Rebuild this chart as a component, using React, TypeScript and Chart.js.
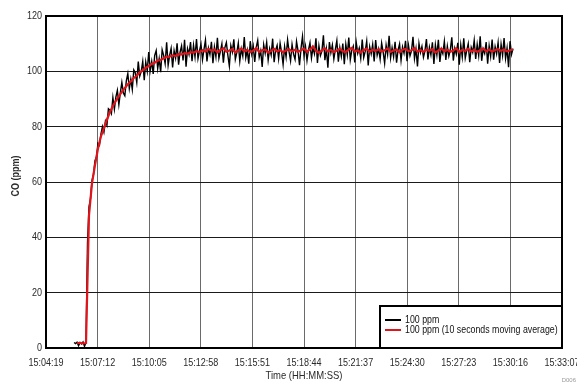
import { useEffect, useRef } from "react";
import { Chart, registerables } from "chart.js";

Chart.register(...registerables);

// X axis: seconds elapsed since 15:04:19, grid every 1/10 of the span
const X_TICK_LABELS = [
  "15:04:19", "15:07:12", "15:10:05", "15:12:58", "15:15:51", "15:18:44",
  "15:21:37", "15:24:30", "15:27:23", "15:30:16", "15:33:07",
];
const X_SPAN_SECONDS = 1728;
const Y_MIN = 0;
const Y_MAX = 120;
const Y_STEP = 20;

const X_TITLE = "Time (HH:MM:SS)";
const Y_TITLE = "CO (ppm)";
const SERIES_RAW_LABEL = "100 ppm";
const SERIES_AVG_LABEL = "100 ppm (10 seconds moving average)";

// raw signal, sampled every 5 s starting 94 s after 15:04:19
const RAW_START_S = 94;
const RAW_STEP_S = 5;
const rawPpm = [
  2, 1.6, 2.1, 0.8, 2, 1.5, 2.2, 0.6, 2,
  38, 51, 54, 60.5, 62.7, 67.7, 69, 74, 73.3, 77.3, 80, 78, 82, 80.5, 86.5, 86,
  84.7, 90.5, 86.3, 90.7, 93.1, 88, 92.3, 96, 92.2, 91.2, 96.6, 99.2, 93.8, 97.2,
  93.5, 100.5, 99.5, 96, 103.5, 98.3, 100, 103.6, 96.8, 103.4, 100.1, 107, 100.3,
  103.6, 99.1, 105.8, 107.5, 101, 104.6, 99.7, 107.8, 105.8, 102.8, 110.5, 102.2,
  105.8, 108.3, 101.4, 107.5, 104.8, 110.1, 102.4, 106.9, 109.2, 103.9, 111.4,
  101.7, 108.2, 106.1, 110.6, 103.7, 109.4, 105.2, 111.7, 104.6, 107.4,
  109.8, 104.2, 107.9, 111.3, 103.6, 108.4, 106.1, 110.7, 102.9, 108.8, 105.3, 112.1, 104.7, 107.2, 109.9,
  103.1, 108.6, 110.4, 105.8, 101.9, 109.3, 107.0, 111.6, 104.4, 106.8, 110.2, 103.7, 108.1, 105.5, 112.4,
  104.9, 107.6, 102.8, 110.9, 106.3, 109.1, 103.4, 108.7, 111.2, 105.1, 107.4, 101.6, 109.6, 106.6, 110.5,
  104.1, 108.2, 105.9, 111.8, 103.3, 107.7, 109.4, 104.6, 110.1, 106.9, 102.5, 108.9, 105.2, 111.4, 107.1,
  103.8, 109.7, 106.2, 104.3, 110.8, 107.5, 102.2, 108.3, 112.6, 105.6, 109.0, 103.9, 107.8, 110.3, 104.8,
  108.5, 106.4, 111.9, 103.0, 109.2, 105.7, 107.3, 113.0, 104.0, 108.0, 101.3, 110.6, 106.7, 109.5, 104.5,
  107.9, 111.1, 103.5, 108.6, 105.4, 110.0, 102.6, 109.8, 106.0, 112.2, 104.2, 107.6, 109.1, 103.2, 110.4,
  106.5, 108.4, 104.7, 111.5, 105.0, 107.2, 110.9, 102.1, 108.9, 106.3, 109.7, 103.6, 111.3, 105.8, 108.1,
  104.4, 110.2, 107.0, 102.9, 109.4, 106.1, 112.8, 104.9, 108.5, 105.3, 110.7, 103.1, 107.7, 109.9, 104.0,
  108.8, 106.6, 111.0, 103.7, 109.3, 105.6, 107.4, 112.5, 104.6, 108.2, 101.8, 110.1, 106.8, 109.0, 105.1,
  107.3, 111.7, 104.3, 108.7, 106.0, 110.5, 102.7, 109.6, 105.9, 111.4, 103.4, 108.0, 106.4, 110.8, 104.1,
  109.1, 105.5, 107.8, 112.3, 103.9, 108.3, 106.2, 110.3, 102.4, 109.5, 105.2, 111.9, 104.8, 107.5, 110.0,
  103.3, 108.6, 106.9, 111.2, 104.5, 109.7, 105.7, 112.7, 103.8, 108.1, 106.5, 110.6, 102.8, 109.2, 105.4,
  111.5, 104.2, 108.9, 106.3, 110.4, 103.0, 109.8, 105.8, 112.0, 104.7, 108.4, 101.5, 110.9, 106.1, 108.2,
];

// 10 s moving average, sampled every 10 s starting 104 s after 15:04:19
const AVG_START_S = 104;
const AVG_STEP_S = 10;
const avgPpm = [
  1.8, 1.8, 1.7, 1.8,
  48, 59.5, 66, 72, 76.5, 79.5, 82.5, 85.3, 87.5, 89.3, 91, 92.6, 94, 95.3, 96.3,
  97.6, 98.4, 99.6, 100.3, 101.3, 101.9, 102.7, 103.1, 103.9, 104.1, 104.7, 105.2,
  105.3, 105.8, 105.6, 106.2, 106.1, 106.6, 106.4, 106.9, 106.8, 107.3, 107.0,
  107.6, 107.2, 108.1, 107.4, 107.9, 106.9, 107.7, 108.3, 107.1, 107.5, 108.0, 106.8, 107.6, 108.2, 107.3,
  107.8, 106.9, 107.5, 108.4, 107.0, 107.6, 107.9, 106.8, 107.4, 108.1, 107.2, 107.7, 106.9, 107.5, 108.0,
  107.3, 107.8, 107.0, 107.6, 108.2, 107.1, 107.9, 109.0, 107.4, 106.7, 107.6, 108.3, 107.2, 107.8, 106.9,
  107.5, 108.1, 107.3, 107.0, 107.9, 108.5, 107.2, 107.6, 106.8, 107.7, 108.2, 107.1, 107.8, 107.4, 108.0,
  107.2, 107.6, 108.3, 107.0, 107.5, 107.9, 106.9, 107.8, 108.1, 107.3, 107.6, 108.4, 107.1, 107.7, 107.0,
  107.9, 107.4, 108.0, 106.8, 107.6, 108.2, 107.3, 107.8, 107.1, 107.5, 108.3, 107.0, 107.7, 107.4, 108.1,
  107.2, 107.8, 107.0, 107.6, 108.2, 107.3, 107.9, 107.1, 107.7, 108.0, 107.4, 107.8, 107.2, 107.6, 107.9,
];

const FONT = "'Liberation Sans', Arial, sans-serif";
const TEXT_COLOR = "#2a2a2a";
const CONDENSE = 0.82;

function condensedText(
  ctx: CanvasRenderingContext2D,
  text: string,
  x: number,
  y: number,
  align: CanvasTextAlign,
  sx: number,
  rotate = 0
) {
  ctx.save();
  ctx.translate(x, y);
  if (rotate) ctx.rotate(rotate);
  ctx.scale(sx, 1);
  ctx.textAlign = align;
  ctx.textBaseline = "middle";
  ctx.fillText(text, 0, 0);
  ctx.restore();
}

const framePlugin = {
  id: "frameAndLegend",
  afterDatasetsDraw(chart: any) {
    const { ctx, chartArea: a } = chart;
    ctx.save();
    // legend box
    const w = 182;
    const h = 42;
    const x0 = a.right - w;
    const y0 = a.bottom - h;
    ctx.fillStyle = "#ffffff";
    ctx.fillRect(x0, y0, w, h);
    ctx.strokeStyle = "#000";
    ctx.lineWidth = 2;
    ctx.strokeRect(x0, y0, w, h);
    ctx.font = `11px ${FONT}`;
    chart.data.datasets.forEach((ds: any, i: number) => {
      const y = y0 + 14 + i * 10;
      ctx.strokeStyle = ds.borderColor;
      ctx.lineWidth = 2;
      ctx.beginPath();
      ctx.moveTo(x0 + 5, y);
      ctx.lineTo(x0 + 21, y);
      ctx.stroke();
      ctx.fillStyle = "#111";
      condensedText(ctx, ds.label, x0 + 25, y, "left", 0.8);
    });
    // plot frame
    ctx.strokeStyle = "#000";
    ctx.lineWidth = 2;
    ctx.strokeRect(a.left, a.top, a.right - a.left, a.bottom - a.top);

    // axis tick labels
    const xs = chart.scales.x;
    const ys = chart.scales.y;
    ctx.fillStyle = TEXT_COLOR;
    ctx.font = `11px ${FONT}`;
    xs.ticks.forEach((t: any, i: number) => {
      condensedText(ctx, X_TICK_LABELS[i], xs.getPixelForValue(t.value), a.bottom + 15, "center", CONDENSE);
    });
    ys.ticks.forEach((t: any) => {
      condensedText(ctx, String(t.value), a.left - 4, ys.getPixelForValue(t.value), "right", CONDENSE);
    });
    // axis titles
    condensedText(ctx, X_TITLE, (a.left + a.right) / 2, a.bottom + 28, "center", 0.86);
    ctx.font = `bold 10px ${FONT}`;
    condensedText(ctx, Y_TITLE, 16, (a.top + a.bottom) / 2 - 6, "center", 0.9, -Math.PI / 2);

    // figure id
    ctx.font = `6px ${FONT}`;
    ctx.fillStyle = "#999";
    ctx.textAlign = "right";
    ctx.textBaseline = "alphabetic";
    ctx.fillText("D006", chart.width - 1, chart.height - 1);
    ctx.restore();
  },
};

export default function App() {
  const ref = useRef<HTMLCanvasElement | null>(null);

  useEffect(() => {
    if (!ref.current) return;
    const rawPoints = rawPpm.map((y, i) => ({ x: RAW_START_S + i * RAW_STEP_S, y }));
    const avgPoints = avgPpm.map((y, i) => ({ x: AVG_START_S + i * AVG_STEP_S, y }));
    const tickCount = X_TICK_LABELS.length;

    const chart = new Chart(ref.current, {
      type: "line",
      data: {
        datasets: [
          {
            label: SERIES_RAW_LABEL,
            data: rawPoints,
            borderColor: "#000000",
            borderWidth: 1.4,
            pointRadius: 0,
            tension: 0,
            order: 1,
          },
          {
            label: SERIES_AVG_LABEL,
            data: avgPoints,
            borderColor: "#e0141b",
            borderWidth: 2.2,
            pointRadius: 0,
            tension: 0,
            order: 0,
          },
        ],
      },
      options: {
        animation: false,
        responsive: false,
        layout: { padding: { top: 16, right: 15, left: 46, bottom: 35 } },
        plugins: { legend: { display: false }, tooltip: { enabled: false } },
        scales: {
          x: {
            type: "linear",
            min: 0,
            max: X_SPAN_SECONDS,
            afterBuildTicks: (scale: any) => {
              scale.ticks = X_TICK_LABELS.map((_, i) => ({
                value: (i * X_SPAN_SECONDS) / (tickCount - 1),
              }));
            },
            afterFit: (scale: any) => {
              scale.height = 0;
              scale.paddingLeft = 0;
              scale.paddingRight = 0;
            },
            ticks: { display: false, autoSkip: false },
            grid: { color: "#6a6a6a", lineWidth: 1, drawTicks: false },
            border: { display: false },
          },
          y: {
            min: Y_MIN,
            max: Y_MAX,
            afterFit: (scale: any) => {
              scale.width = 0;
              scale.paddingTop = 0;
              scale.paddingBottom = 0;
            },
            ticks: { display: false, stepSize: Y_STEP },
            grid: { color: "#1a1a1a", lineWidth: 1, drawTicks: false },
            border: { display: false },
          },
        },
      },
      plugins: [framePlugin],
    });
    return () => chart.destroy();
  }, []);

  return (
    <div style={{ position: "fixed", left: 0, top: 0, width: 577, height: 383, background: "#fff" }}>
      <canvas ref={ref} width={577} height={383} style={{ display: "block" }} />
    </div>
  );
}
